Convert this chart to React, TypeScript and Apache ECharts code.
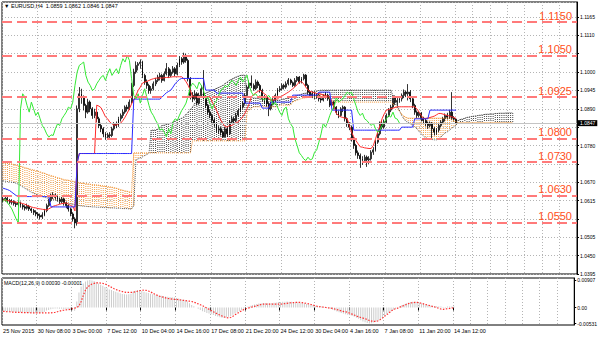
import { useEffect, useRef } from 'react';
import * as echarts from 'echarts';

const FONT = 'Liberation Sans, Arial, sans-serif';

// ---- axis / category data ----
const timeLabels = [
  '25 Nov 2015', '30 Nov 08:00', '3 Dec 00:00', '7 Dec 12:00', '10 Dec 04:00',
  '14 Dec 16:00', '17 Dec 08:00', '21 Dec 20:00', '24 Dec 12:00', '30 Dec 04:00',
  '4 Jan 16:00', '7 Jan 08:00', '11 Jan 20:00', '14 Jan 12:00',
];
const BARS_PER_LABEL = 16;
const FUTURE_GRID_STEP = 8;
const CATEGORY_COUNT = 264;
const CHIKOU_SHIFT = 26;
const priceMin = 1.0395;
const priceMax = 1.121;
const priceStep = 0.0055;
const coveredTicks = ['1.1055', '1.0835', '1.0725', '1.0560'];
const macdMin = -0.0058;
const macdMax = 0.0098;
const macdLabels = [0.00907, 0, -0.00531];

const levels = [1.115, 1.105, 1.0925, 1.08, 1.073, 1.063, 1.055];
const lastPrice = 1.0847;
const titleText = '\u25BC EURUSD,H4  1.0859 1.0862 1.0846 1.0847';
const macdTitle = 'MACD(12,26,9) 0.00030 -0.00001';

// ---- candles: [open, close, low, high] in pips above 1.0000 ----
const candles = [
  [620,618,610,628],[618,622,612,630],[622,615,608,626],[615,610,604,620],[610,612,603,619],
  [612,606,600,616],[606,603,596,612],[603,608,598,615],[608,600,594,612],[600,596,588,605],
  [596,592,585,601],[592,598,588,606],[598,590,584,602],[590,585,578,594],[585,580,572,590],
  [580,575,568,586],[575,570,562,580],[570,566,558,576],[566,572,560,580],[572,585,568,590],
  [585,600,580,606],[600,615,596,620],[615,628,610,636],[628,632,620,640],[632,625,618,636],
  [625,618,612,630],[618,612,605,624],[612,620,606,626],[620,608,600,624],[608,600,592,612],
  [600,590,582,604],[590,575,568,594],[575,560,552,580],[560,548,532,565],[548,890,540,900],
  [890,935,880,955],[935,925,905,950],[925,900,885,930],[900,880,862,905],[880,910,875,920],
  [910,890,880,915],[890,870,860,895],[870,880,862,890],[880,860,850,885],[860,840,832,866],
  [840,830,820,848],[830,815,805,835],[815,805,797,820],[805,812,798,818],[812,810,800,820],
  [810,830,805,836],[830,845,825,850],[845,840,832,852],[840,860,836,866],[860,870,852,876],
  [870,880,862,888],[880,895,875,900],[895,890,882,902],[890,910,886,918],[910,960,905,968],
  [960,1000,955,1010],[1000,1020,995,1032],[1020,1025,1005,1030],[1025,1030,1010,1038],[1030,990,982,1034],
  [990,970,962,995],[970,960,950,978],[960,945,935,965],[945,950,935,958],[950,965,945,972],
  [965,975,958,982],[975,985,970,992],[985,990,975,998],[990,975,968,995],[975,995,972,1002],
  [995,1010,990,1027],[1010,990,982,1015],[990,1000,985,1008],[1000,1010,995,1018],[1010,995,988,1015],
  [995,1020,990,1028],[1020,1040,1015,1048],[1040,1030,1022,1045],[1030,1050,1025,1058],[1050,1035,1028,1055],
  [1035,980,972,1040],[980,930,918,985],[930,920,910,940],[920,935,915,945],[935,907,900,940],
  [907,930,902,938],[930,950,925,960],[950,925,918,1006],[925,900,892,930],[900,880,872,905],
  [880,870,862,888],[870,856,848,875],[856,845,836,862],[845,826,818,850],[826,830,815,838],
  [830,820,810,836],[820,806,803,825],[806,830,804,835],[830,815,806,836],[815,850,812,856],
  [850,860,845,868],[860,855,846,866],[855,871,850,878],[871,885,866,890],[885,895,880,902],
  [895,907,890,912],[907,930,902,936],[930,955,925,962],[955,967,950,975],[967,960,952,990],
  [960,950,944,966],[950,970,946,978],[970,960,952,975],[960,945,938,965],[945,920,912,950],
  [920,925,905,932],[925,905,896,928],[905,890,868,910],[890,905,885,912],[905,915,900,922],
  [915,930,910,936],[930,946,925,952],[946,950,940,958],[950,960,945,966],[960,955,948,965],
  [955,965,950,972],[965,976,960,982],[976,968,962,980],[968,960,955,972],[960,975,956,982],
  [975,985,970,988],[985,970,965,988],[970,980,966,985],[980,991,975,995],[991,960,955,994],
  [960,940,932,965],[940,930,925,946],[930,935,922,942],[935,925,918,940],[925,930,920,936],
  [930,920,912,934],[920,916,908,925],[916,925,912,932],[925,930,920,940],[930,920,914,935],
  [920,901,895,924],[901,910,896,916],[910,895,888,914],[895,880,872,898],[880,870,862,885],
  [870,890,866,895],[890,895,880,900],[895,860,852,898],[860,845,836,864],[845,835,826,850],
  [835,800,792,840],[800,780,770,806],[780,758,750,785],[758,750,740,765],[750,740,713,756],
  [740,735,722,748],[735,745,728,752],[745,737,716,750],[737,740,725,748],[740,760,735,766],
  [760,767,752,775],[767,790,762,796],[790,815,785,822],[815,847,810,852],[847,835,828,855],
  [835,850,830,858],[850,870,845,876],[870,886,865,892],[886,895,880,902],[895,925,890,930],
  [925,910,902,930],[910,915,900,922],[915,920,908,926],[920,930,912,936],[930,940,922,948],
  [940,935,925,945],[935,940,915,964],[940,920,910,946],[920,900,892,925],[900,880,872,905],
  [880,870,862,885],[870,877,864,882],[877,860,852,880],[860,855,845,866],[855,847,838,860],
  [847,840,830,852],[840,847,834,852],[847,830,797,850],[830,820,810,835],[820,826,812,832],
  [826,840,820,846],[840,850,835,856],[850,860,845,866],[860,870,852,876],[870,865,858,878],
  [865,880,860,886],[880,862,856,940],[862,859,852,868],[859,847,846,862],
];

// ---- Ichimoku lines (pips above 1.0000) ----
const tenkan = [
  617,616,615,614,612,611,610,609, 608,606,604,601,598,596,594, 593,591,590,589,588,587,
  590,594,598,600, 602,604,606,607,608, 604,600,598,584, 728, 756,756,756,756,756,756,756,756,
  901,898,893,880,866, 860,850,845,841,842,845, 847,855,865,877,890,905, 916,930,945,955,967,
  970,972,975,978,980,982,982, 982,982,983,984,984,985,986,986,986, 986,986,980,971,
  960,945,926,926,926,926, 926,926,926,926,926, 910,900,886,870, 855,845,836,836,
  840,840,845,848,851, 858,866,876,890,905, 926,932,938,942,946, 940,935,930,920,916,
  916,918,920,925,928,932,936, 940,945,950,956,962,971, 971,965,955,946, 942,940,938,936,936,
  934,932,930,928,926, 910,895,876,870,866, 864,862,861,840,820, 806,795,785,776,775,
  773,772,771,771,780, 800,820,840,860,875, 886,888,890,892,894,896, 896,896,896,896,896,896,896,896,
  890,880,870,861,861, 862,864,866,868,872,876, 876,874,872,870,868,866,864,861,
];
const kijun = [
  652,650,648, 645,640,635,630,627,
  627,627,627,627,627,627,627,627,627,627,627,627,627,627,
  596,596,596,596,596,596,596,596,596,596,596,596,
  728,
  756,756,756,756,756,756,756,756,756,756,756,756,756,756,756,756,756,756,756,756,756,756,756,756,756,
  919,919,919,919,919,919,919,919,919,919,919,919,
  919,925,932,938,942,946, 955,965,972,978,981,
  981,981,981,981,981,981,981,981,981,981,
  946,946,946,946,946,
  937,937,937,937,937,937,937,937,937,937,937,937,937,
  907,907,907,907,907,907,907,907,
  892,892,892,892,
  910,910,910,910,910,910,910,910,910,910,
  931,931,931,931,931,931,931,931,931,931,931,931,
  940,940,940,940,940,940,
  886,886,886,886,886,886,886,886,886,886,
  826,826,826,826,826,826,826,826,826,826,826,826,826,826,826,826,826,826,826,826,826,826,
  835,835,835,835,835,835,
  860,860,860,860,860,860,860,
  886,886,886,886,886,886,886,886,886,886,886,886,886,
];
// Senkou spans as displayed (already shifted 26 bars forward)
const spanA = [
  674,673,672,671,670,669,667, 664,660,656,652,648,644,640,637,
  634,631,629,627,625,623,622, 620,618,616,614,612,611,609,607,
  606,605,603,602,601,600,599, 598,598,597,597,596,596,595,
  595,595,594,594,594,593,593,593,592,592,592,591,591,591,590,590,
  600, 737,740,743,746,750,753,757,
  826,826,826,830,835,840, 841,843,845,847,850,853, 856,859,862,866,873,880,888,
  896,906,916,926,930, 934,937,940,943,946,948, 951,954,957,961,966,971,
  976,979,983,986,988,990,991,991, 926,925,924,923,922,921,920,
  919,919,918,918,917,917,916,916,916, 918,920,921,922,924,926, 928,930,932,934,936,937,
  939,941,942,943,944,945,946,946,946,
  946,946,946,946,946,946,946,946,946,946,946,946,946,946,946,
  946,946,946,946,946,946,946,946,946,946,946,946,946,946,946,
  930,915,900,885,870,860,852, 850,845,840,836,830, 822,815,808,803,801,
  799,798,797,797,800, 805,812,818,821,826, 832,836,840,
  856,858,860,862,864,866, 867,868,869,870,871,872,873, 874,874,875,875,876,876,877,
  877,877,878,878,878,878,
];
const spanB = [
  729,728,727,726,725,723,722, 720,718,716,714,712,710,708,707,
  705,703,701,699,697,694,692, 690,688,686,684,682,680,678,677,
  676,674,673,672,670,669,667, 667,666,665,664,663,663,662,
  661,660,659,658,657,656,655,654,652,650,648,646,644,643,641,640,
  758,758,758,758,758,758,758,758,758,758,758,758,758,758,758,758,758,758,758,758,758,758,758,758,758,758,758,
  794,794,794,794,794,794,794,794,794,794,794,794,794,794,794,794,794,794,794,794,794,794,794,794,794,
  880,886,892, 896,896,896,896,896,896,896,896,896,896,896,896,
  901,901,901,901,901,901, 911,913,916,918, 921,922,923,924,925,926, 926,928,930,931,931,
  928,924,920,916,
  912,910,910,910,910,910,910,910,910,910,910,910,910,910,910,910,910,910,910,910,910,910,910,910,910,910,910,
  905,898,890,882,875,868,864,
  862,862,862,862,862,862,862,862,862,862,862,862,862,862,862,862,862,862,862,862,
  858,854,851,
  849,849,849,849,849,849,849,849,849,849,849,849,849,849,849,849,849,849,849,849,849,849,849,849,849,849,
];

// ---- MACD (units of 0.0001) ----
const macdMain = [
  -12,-12,-13,-13,-14,-14,-15,-15,-16,-16,
  -17,-17,-18,-18,-19,-19,-19,-18,-17,-15,
  -10,-8,-6,-4,-3,-3,-4,-4,-5,-6,-6,-7,-9,-11,
  20,50,70,80,86,90,91,90,88,85,
  80,76,72,68,64,60,58,
  55,52,50,47,45,44,43,44,46,
  52,56,58,57,55,52,50,48,
  46,44,42,41,40,39,38,37,36,35,34,33,32,30,28,26,
  24,20,14,8,4,0,-4,-8,-12,-15,-18,
  -20,-22,-25,-28,-30,-32,-34,-34,-33,-31,-28,-24,
  -20,-16,-12,-8,-4,0,3,6,8,10,12,
  13,14,15,15,14,14,15,16,17,18,18,19,19,20,19,19,18,18,17,16,15,
  14,12,10,9,8,6,5,4,3,2,0,-2,
  -4,-7,-10,-13,-16,-18,-20,-22,-24,-26,-28,-31,-34,-37,-42,-46,-49,-51,-53,-52,
  -50,-47,-43,-38,-33,-27,-22,-17,-12,-8,-4,0,
  4,8,11,14,16,18,19,19,18,16,14,12,10,
  8,7,6,5,4,3,3,2,2,3,3,3,3,
];
const macdSignal = [
  -13,-13,-14,-14,-15,-15,-16,-16,-16,-17,
  -17,-17,-17,-18,-18,-18,-18,-18,-18,-18,
  -18,-18,-18,-17,-16,-14,-12,-10,-9,-8,
  -7,-6,-4,-2,0,5,20,40,
  58,68,74,78,80,82,82,81,
  80,78,75,71,67,63,60,57,
  55,53,51,50,50,50,51,52,
  54,56,57,58,57,55,52,48,
  44,41,38,36,34,32,30,29,28,27,
  27,26,25,24,23,22,21,20,18,15,
  12,9,6,2,-2,-6,-10,-14,-18,-22,
  -25,-28,-31,-33,-35,-33,-29,-24,
  -20,-15,-11,-7,-4,-2,0,2,
  4,6,8,10,11,11,11,11,11,11,11,11,
  11,12,13,14,15,16,16,17,17,17,
  16,15,14,12,10,8,6,4,
  3,2,1,0,-1,-2,-3,-5,
  -7,-9,-11,-13,-14,-16,-19,-22,
  -25,-28,-31,-33,-35,-37,-40,-43,-45,-46,
  -46,-44,-40,-35,-29,-24,-18,-12,-7,
  -4,-2,1,4,7,10,13,15,16,17,
  17,16,14,12,10,8,6,4,2,0,
  -3,-5,-6,-5,-4,-3,-2,0,
];

const px = (v: number) => Math.round((1 + v / 10000) * 100000) / 100000;
const mv = (v: number) => Math.round(v) / 10000;

export default function App() {
  const ref = useRef<HTMLDivElement>(null);

  useEffect(() => {
    document.body.style.margin = '0';
    if (!ref.current) return;
    const chart = echarts.init(ref.current, null, { renderer: 'svg' });

    const lastLabelIdx = (timeLabels.length - 1) * BARS_PER_LABEL;
    const categories = Array.from({ length: CATEGORY_COUNT }, (_, i) =>
      i % BARS_PER_LABEL === 0 && i <= lastLabelIdx ? timeLabels[i / BARS_PER_LABEL] : ''
    );
    const gridInterval = (i: number) =>
      i <= lastLabelIdx ? i % BARS_PER_LABEL === 0 : (i - lastLabelIdx) % FUTURE_GRID_STEP === 0;
    const labelInterval = (i: number) => i <= lastLabelIdx && i % BARS_PER_LABEL === 0;

    const candleData = candles.map(([o, c, l, h]) => [px(o), px(c), px(l), px(h)]);
    const chikou = candles.slice(CHIKOU_SHIFT).map((c) => px(c[1]));
    const cloudData = spanA.map((a, d) => [d, px(a), px(spanB[d] ?? a)]);

    const gridLine = { color: '#b4b4b4', type: [1, 2] as number[], width: 1 };

    const levelMarks: any[] = [
      {
        yAxis: lastPrice,
        lineStyle: { color: '#c4c4c4', width: 1, type: 'solid' },
        label: {
          show: true, position: 'end', distance: 1, formatter: lastPrice.toFixed(4),
          color: '#fff', backgroundColor: '#000', fontSize: 5, padding: [1, 2, 0, 2], fontFamily: FONT,
        },
      },
    ];
    levels.forEach((v) => {
      levelMarks.push({
        yAxis: v,
        lineStyle: { color: '#ff7a7a', width: 2, type: [10, 5] },
        label: {
          show: true, position: 'insideEndTop', distance: [5, 1], formatter: v.toFixed(4),
          color: '#ff5020', fontSize: 11, fontFamily: FONT,
        },
      });
      levelMarks.push({
        yAxis: v,
        lineStyle: { width: 0, opacity: 0 },
        label: {
          show: true, position: 'end', distance: 1, formatter: v.toFixed(4),
          color: '#fff', backgroundColor: '#ff1a1a', fontSize: 5, padding: [1, 2, 0, 2], fontFamily: FONT,
        },
      });
    });

    const option: any = {
      animation: false,
      backgroundColor: '#ffffff',
      textStyle: { fontFamily: FONT },
      grid: [
        { left: 2, top: 2, width: 575, height: 272, show: true, borderColor: '#000', borderWidth: 1, backgroundColor: '#fff' },
        { left: 2, top: 278, width: 575, height: 47, show: true, borderColor: '#000', borderWidth: 1, backgroundColor: '#fff' },
      ],
      xAxis: [
        {
          type: 'category', gridIndex: 0, data: categories, boundaryGap: true,
          axisLine: { show: false }, axisTick: { show: false }, axisLabel: { show: false },
          splitLine: { show: true, interval: gridInterval, lineStyle: gridLine },
        },
        {
          type: 'category', gridIndex: 1, data: categories, boundaryGap: true,
          axisLine: { show: false },
          axisTick: { show: true, interval: labelInterval, length: 3, lineStyle: { color: '#000' } },
          axisLabel: {
            show: true, interval: labelInterval, align: 'left', fontSize: 5.5, color: '#000', margin: 3, fontFamily: FONT,
          },
          splitLine: { show: true, interval: gridInterval, lineStyle: gridLine },
        },
      ],
      yAxis: [
        {
          type: 'value', gridIndex: 0, position: 'right', min: priceMin, max: priceMax, interval: priceStep,
          axisLine: { show: true, lineStyle: { color: '#000' } },
          axisTick: { show: true, length: 2, lineStyle: { color: '#000' } },
          axisLabel: {
            fontSize: 5, color: '#000', margin: 3, showMaxLabel: false, fontFamily: FONT,
            formatter: (v: number) => {
              const s = v.toFixed(4);
              return coveredTicks.indexOf(s) >= 0 ? '' : s;
            },
          },
          splitLine: { show: true, lineStyle: gridLine },
        },
        {
          type: 'value', gridIndex: 1, position: 'right', min: macdMin, max: macdMax,
          axisLine: { show: true, lineStyle: { color: '#000' } },
          axisTick: { show: true, length: 2, customValues: macdLabels, lineStyle: { color: '#000' } },
          axisLabel: {
            fontSize: 5, color: '#000', margin: 3, customValues: macdLabels, fontFamily: FONT,
            formatter: (v: number) => (v === 0 ? '0.00' : v.toFixed(5)),
          },
          splitLine: { show: false },
        },
      ],
      graphic: [
        { type: 'text', left: 4, top: 3, style: { text: titleText, fontSize: 5.5, fill: '#000', fontFamily: FONT } },
        { type: 'text', left: 4, top: 280, style: { text: macdTitle, fontSize: 5.2, fill: '#000', fontFamily: FONT } },
      ],
      series: [
        {
          type: 'custom', name: 'kumo', xAxisIndex: 0, yAxisIndex: 0, clip: true,
          data: cloudData, encode: { x: 0, y: [1, 2] },
          renderItem: (_p: any, api: any) => {
            const d = api.value(0);
            const a = api.value(1);
            const b = api.value(2);
            const p1 = api.coord([d, a]);
            const p2 = api.coord([d, b]);
            const yTop = Math.round(Math.min(p1[1], p2[1]));
            const yBot = Math.round(Math.max(p1[1], p2[1]));
            return {
              type: 'line',
              shape: { x1: p1[0], y1: yTop, x2: p1[0], y2: yBot },
              style: { stroke: a >= b ? '#4a4a4a' : '#f2a04a', lineWidth: 1, lineDash: [1, 1] },
            };
          },
        },
        {
          type: 'line', name: 'spanA', xAxisIndex: 0, yAxisIndex: 0, data: spanA.map(px),
          showSymbol: false, symbol: 'none', lineStyle: { color: '#555555', width: 1, type: [1, 1] },
        },
        {
          type: 'line', name: 'spanB', xAxisIndex: 0, yAxisIndex: 0, data: spanB.map(px),
          showSymbol: false, symbol: 'none', lineStyle: { color: '#f09030', width: 1, type: [1, 1] },
        },
        {
          type: 'candlestick', name: 'EURUSD', xAxisIndex: 0, yAxisIndex: 0, data: candleData, barWidth: 1.4,
          itemStyle: { color: '#ffffff', color0: '#000000', borderColor: '#000000', borderColor0: '#000000', borderWidth: 0.8 },
        },
        {
          type: 'line', name: 'tenkan', xAxisIndex: 0, yAxisIndex: 0, data: tenkan.map(px),
          showSymbol: false, symbol: 'none', lineStyle: { color: '#ff2a2a', width: 1 },
        },
        {
          type: 'line', name: 'kijun', xAxisIndex: 0, yAxisIndex: 0, data: kijun.map(px),
          showSymbol: false, symbol: 'none', lineStyle: { color: '#2a2aff', width: 1 },
        },
        {
          type: 'line', name: 'chikou', xAxisIndex: 0, yAxisIndex: 0, data: chikou,
          showSymbol: false, symbol: 'none', lineStyle: { color: '#33e833', width: 1 },
          markLine: { symbol: ['none', 'none'], silent: true, precision: 4, data: levelMarks },
        },
        {
          type: 'bar', name: 'macd', xAxisIndex: 1, yAxisIndex: 1, data: macdMain.map(mv),
          barWidth: 1, itemStyle: { color: '#cccccc' },
        },
        {
          type: 'line', name: 'signal', xAxisIndex: 1, yAxisIndex: 1, data: macdSignal.map(mv),
          showSymbol: false, symbol: 'none', lineStyle: { color: '#ff3030', width: 1.2, type: [1.5, 1.5] },
        },
      ],
    };

    chart.setOption(option);
    return () => chart.dispose();
  }, []);

  return (
    <div
      ref={ref}
      style={{ position: 'absolute', left: 0, top: 0, width: 600, height: 339, background: '#fff' }}
    />
  );
}
